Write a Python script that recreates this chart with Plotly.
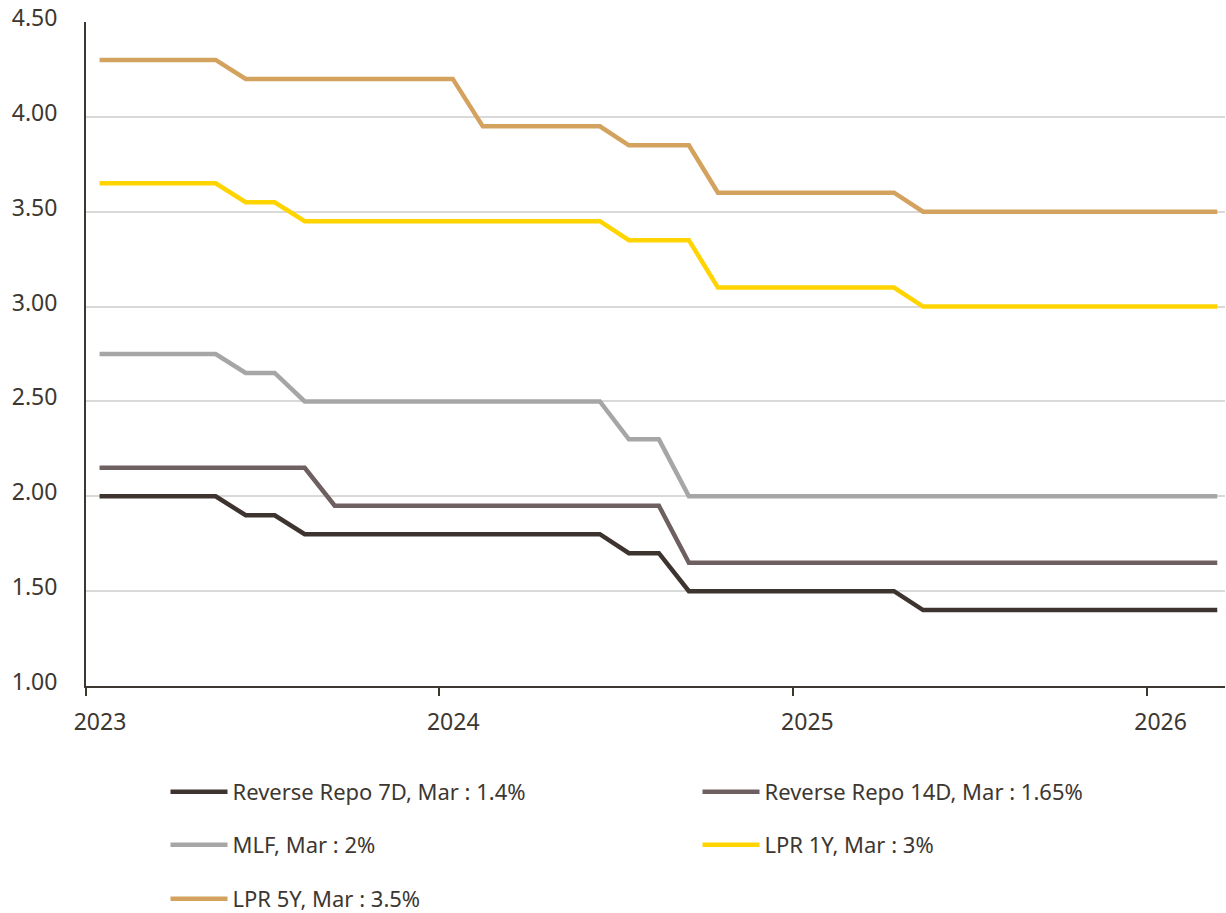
import plotly.graph_objects as go

months = ["2023-01-15", "2023-02-15", "2023-03-15", "2023-04-15", "2023-05-15", "2023-06-15",
          "2023-07-15", "2023-08-15", "2023-09-15", "2023-10-15", "2023-11-15", "2023-12-15",
          "2024-01-15", "2024-02-15", "2024-03-15", "2024-04-15", "2024-05-15", "2024-06-15",
          "2024-07-15", "2024-08-15", "2024-09-15", "2024-10-15", "2024-11-15", "2024-12-15",
          "2025-01-15", "2025-02-15", "2025-03-15", "2025-04-15", "2025-05-15", "2025-06-15",
          "2025-07-15", "2025-08-15", "2025-09-15", "2025-10-15", "2025-11-15", "2025-12-15",
          "2026-01-15", "2026-02-15", "2026-03-15"]

rr7d = [2.00, 2.00, 2.00, 2.00, 2.00, 1.90, 1.90, 1.80, 1.80, 1.80, 1.80, 1.80,
        1.80, 1.80, 1.80, 1.80, 1.80, 1.80, 1.70, 1.70, 1.50, 1.50, 1.50, 1.50,
        1.50, 1.50, 1.50, 1.50, 1.40, 1.40, 1.40, 1.40, 1.40, 1.40, 1.40, 1.40,
        1.40, 1.40, 1.40]
rr14d = [2.15, 2.15, 2.15, 2.15, 2.15, 2.15, 2.15, 2.15, 1.95, 1.95, 1.95, 1.95,
         1.95, 1.95, 1.95, 1.95, 1.95, 1.95, 1.95, 1.95, 1.65, 1.65, 1.65, 1.65,
         1.65, 1.65, 1.65, 1.65, 1.65, 1.65, 1.65, 1.65, 1.65, 1.65, 1.65, 1.65,
         1.65, 1.65, 1.65]
mlf = [2.75, 2.75, 2.75, 2.75, 2.75, 2.65, 2.65, 2.50, 2.50, 2.50, 2.50, 2.50,
       2.50, 2.50, 2.50, 2.50, 2.50, 2.50, 2.30, 2.30, 2.00, 2.00, 2.00, 2.00,
       2.00, 2.00, 2.00, 2.00, 2.00, 2.00, 2.00, 2.00, 2.00, 2.00, 2.00, 2.00,
       2.00, 2.00, 2.00]
lpr1y = [3.65, 3.65, 3.65, 3.65, 3.65, 3.55, 3.55, 3.45, 3.45, 3.45, 3.45, 3.45,
         3.45, 3.45, 3.45, 3.45, 3.45, 3.45, 3.35, 3.35, 3.35, 3.10, 3.10, 3.10,
         3.10, 3.10, 3.10, 3.10, 3.00, 3.00, 3.00, 3.00, 3.00, 3.00, 3.00, 3.00,
         3.00, 3.00, 3.00]
lpr5y = [4.30, 4.30, 4.30, 4.30, 4.30, 4.20, 4.20, 4.20, 4.20, 4.20, 4.20, 4.20,
         4.20, 3.95, 3.95, 3.95, 3.95, 3.95, 3.85, 3.85, 3.85, 3.60, 3.60, 3.60,
         3.60, 3.60, 3.60, 3.60, 3.50, 3.50, 3.50, 3.50, 3.50, 3.50, 3.50, 3.50,
         3.50, 3.50, 3.50]

series_names = ["Reverse Repo 7D, Mar : 1.4%", "Reverse Repo 14D, Mar : 1.65%",
                "MLF, Mar : 2%", "LPR 1Y, Mar : 3%", "LPR 5Y, Mar : 3.5%"]
series_values = [rr7d, rr14d, mlf, lpr1y, lpr5y]
series_colors = ["#3d3430", "#6e5f60", "#a6a6a6", "#ffd400", "#d4a25f"]
series_legends = ["legend", "legend", "legend2", "legend2", "legend3"]

year_ticks = ["2023-01-01", "2024-01-01", "2025-01-01", "2026-01-01"]
year_labels = ["2023", "2024", "2025", "2026"]

TEXT = "#3d3732"
FONT = "Noto Sans"

fig = go.Figure()
for name, vals, col, lg in zip(series_names, series_values, series_colors, series_legends):
    fig.add_trace(go.Scatter(x=months, y=vals, name=name, mode="lines",
                             line=dict(color=col, width=4.5), legend=lg))

legend_common = dict(orientation="h", xref="container", yref="container",
                     xanchor="left", yanchor="middle", entrywidth=460, entrywidthmode="pixels",
                     itemwidth=57, font=dict(family=FONT, size=22, color=TEXT),
                     bgcolor="rgba(0,0,0,0)", traceorder="normal")

fig.update_layout(
    width=1226, height=913,
    margin=dict(l=86, r=1, t=22, b=227, autoexpand=False),
    plot_bgcolor="white", paper_bgcolor="white",
    font=dict(family=FONT, size=20, color=TEXT),
    legend=dict(x=165.5 / 1226, y=1 - 792 / 913, **legend_common),
    legend2=dict(x=165.5 / 1226, y=1 - 845 / 913, **legend_common),
    legend3=dict(x=165.5 / 1226, y=1 - 899 / 913, **legend_common),
    xaxis=dict(type="date", range=["2023-01-01", "2026-03-23"],
               tickvals=year_ticks, ticktext=year_labels,
               showgrid=False, showline=True, linecolor=TEXT, linewidth=2,
               ticks="outside", ticklen=8, tickwidth=2, tickcolor=TEXT,
               ticklabelshift=14, ticklabelstandoff=6,
               tickfont=dict(family=FONT, size=23, color=TEXT)),
    yaxis=dict(range=[1, 4.5], dtick=0.5, tickformat=".2f",
               showgrid=True, gridcolor="#d9d9d9", gridwidth=2,
               showline=True, linecolor=TEXT, linewidth=2, zeroline=False,
               ticks="", ticklabelstandoff=22, ticklabelshift=-4,
               tickfont=dict(family=FONT, size=23, color=TEXT)),
)

fig.write_html("out.html", config={"displayModeBar": False},
               post_script="document.body.style.margin='0';")
